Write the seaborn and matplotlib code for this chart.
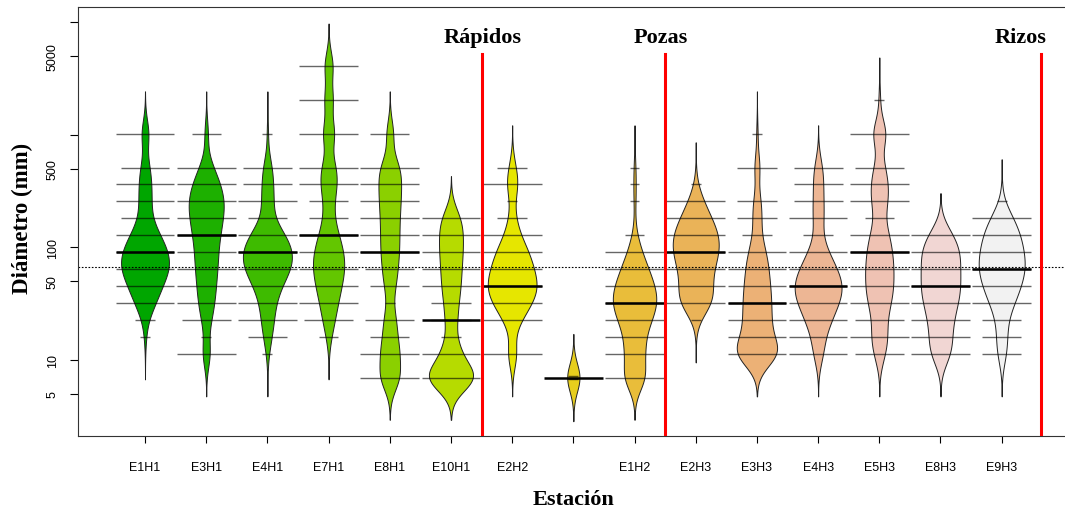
import colorsys
import numpy as np
import pandas as pd
import matplotlib
matplotlib.use("Agg")
import matplotlib.pyplot as plt
import matplotlib.transforms as mtransforms
import seaborn as sns

# Clases de diámetro (mm), de menor a mayor
clases = [7, 11.3, 16, 22.6, 32, 45, 64, 90.5, 128, 181, 256, 362, 512, 1024, 2048, 4096]

# Estaciones en el orden del eje x ("" = posición sin etiqueta)
estaciones = ["E1H1", "E3H1", "E4H1", "E7H1", "E8H1", "E10H1", "E2H2", "",
              "E1H2", "E2H3", "E3H3", "E4H3", "E5H3", "E8H3", "E9H3"]

# Nº de piedras por clase (mismo orden que `clases`)
n_E1H1 = [0, 0, 1, 2, 10, 15, 24, 22, 14, 5, 6, 6, 5, 6, 0, 0]
n_E3H1 = [0, 6, 1, 5, 8, 9, 11, 11, 13, 16, 18, 14, 7, 3, 0, 0]
n_E4H1 = [0, 1, 4, 6, 7, 12, 22, 24, 17, 4, 6, 5, 5, 1, 0, 0]
n_E7H1 = [0, 0, 2, 5, 7, 10, 13, 12, 8, 4, 4, 7, 7, 8, 6, 6]
n_E8H1 = [10, 8, 4, 5, 1, 4, 5, 6, 6, 6, 7, 7, 8, 4, 0, 0]
n_E10H1 = [24, 8, 2, 4, 4, 6, 6, 7, 7, 7, 0, 0, 0, 0, 0, 0]
n_E2H2 = [0, 6, 0, 7, 16, 22, 17, 14, 6, 3, 1, 6, 3, 0, 0, 0]
n_E1H2 = [14, 10, 8, 14, 20, 17, 12, 6, 2, 0, 1, 1, 1, 0, 0, 0]
n_E2H3 = [0, 0, 0, 1, 15, 12, 13, 18, 18, 12, 6, 1, 0, 0, 0, 0]
n_E3H3 = [0, 26, 12, 12, 12, 11, 10, 8, 3, 4, 4, 0, 4, 1, 0, 0]
n_E4H3 = [0, 6, 6, 13, 20, 26, 19, 10, 3, 6, 5, 5, 5, 0, 0, 0]
n_E5H3 = [0, 5, 7, 5, 9, 11, 11, 10, 8, 3, 7, 7, 5, 9, 1, 0]
n_E8H3 = [0, 8, 7, 8, 11, 13, 12, 13, 9, 0, 0, 0, 0, 0, 0, 0]
n_E9H3 = [0, 4, 4, 4, 9, 14, 18, 16, 14, 9, 1, 0, 0, 0, 0, 0]
# la estación sin nombre solo tiene tres piedras
obs_sin_nombre = [6.8, 7.0, 7.2]

conteos = {"E1H1": n_E1H1, "E3H1": n_E3H1, "E4H1": n_E4H1, "E7H1": n_E7H1,
           "E8H1": n_E8H1, "E10H1": n_E10H1, "E2H2": n_E2H2, "E1H2": n_E1H2,
           "E2H3": n_E2H3, "E3H3": n_E3H3, "E4H3": n_E4H3, "E5H3": n_E5H3,
           "E8H3": n_E8H3, "E9H3": n_E9H3}

# Tramos del río (texto, posición del texto, posición de la línea roja)
tramos = ["Rápidos", "Pozas", "Rizos"]
tramos_x = [6.51, 9.43, 15.31]
lineas_x = [6.5, 9.5, 15.65]

H = 0.125        # ancho de banda común en décadas (log10)
MAXW = 0.8       # ancho máximo de las judías
GROWN = 12       # judías con menos obs. se dibujan más estrechas
LL = 0.16        # largo de la línea de una observación
MAXLINE = 0.96   # largo máximo de las líneas


def terrain_colors(n):
    # misma rampa que terrain.colors() de R
    k = n // 2
    h1 = np.linspace(4 / 12, 2 / 12, k)
    s1 = np.linspace(1, 1, k)
    v1 = np.linspace(0.65, 0.9, k)
    h2 = np.linspace(2 / 12, 0, n - k + 1)[1:]
    s2 = np.linspace(1, 0, n - k + 1)[1:]
    v2 = np.linspace(0.9, 0.95, n - k + 1)[1:]
    hs = np.r_[h1, h2]
    ss = np.r_[s1, s2]
    vs = np.r_[v1, v2]
    return [colorsys.hsv_to_rgb(h, s, v) for h, s, v in zip(hs, ss, vs)]


def bw_comun(kde):
    # mismo ancho de banda para todas las judías
    return H / np.sqrt(np.cov(kde.dataset[0], aweights=kde.weights))


filas = []
for pos, est in enumerate(estaciones, start=1):
    if est in conteos:
        vals = np.repeat(clases, conteos[est])
    else:
        vals = np.array(obs_sin_nombre)
    filas.append(pd.DataFrame({"pos": pos, "est": est if est else "-", "diam": vals}))
df = pd.concat(filas, ignore_index=True)

colores = terrain_colors(len(estaciones))
pal = {(e if e else "-"): c for e, c in zip(estaciones, colores)}

plt.rcParams["font.family"] = ["Liberation Sans", "DejaVu Sans"]
fig = plt.figure(figsize=(10.65, 5.10), dpi=100)
ax = fig.add_axes([78 / 1065, 73 / 510, 991 / 1065, 429 / 510])

normales = df[df["est"] != "-"]
sns.violinplot(data=normales, x="pos", y="diam", hue="est", palette=pal,
               native_scale=True, log_scale=(False, True), orient="x",
               inner=None, cut=3, gridsize=400, bw_method=bw_comun,
               density_norm="area", common_norm=True, width=MAXW,
               saturation=1, linewidth=0.7, linecolor="#222222",
               legend=False, ax=ax)

# la judía con pocas observaciones se dibuja más estrecha
chica = df[df["est"] == "-"]
sns.violinplot(data=chica, x="pos", y="diam", color=pal["-"],
               native_scale=True, log_scale=(False, True), orient="x",
               inner=None, cut=3, gridsize=400, bw_method=bw_comun,
               width=MAXW * len(chica) / GROWN, saturation=1,
               linewidth=0.7, linecolor="#222222", ax=ax)

# líneas de cada observación y mediana
for pos in range(1, len(estaciones) + 1):
    sub = df.loc[df["pos"] == pos, "diam"].to_numpy()
    vals, cnt = np.unique(sub, return_counts=True)
    for v, c in zip(vals, cnt):
        L = min(LL * c, MAXLINE)
        ax.hlines(v, pos - L / 2, pos + L / 2, color="black", alpha=0.6,
                  lw=1.0, zorder=3)
    ax.hlines(np.median(sub), pos - MAXLINE / 2, pos + MAXLINE / 2,
              color="black", lw=1.8, zorder=4)

# línea general (media geométrica)
media_geo = 10 ** np.log10(df["diam"]).mean()
ax.axhline(media_geo, color="black", lw=0.8, ls=(0, (1.5, 1.5)), zorder=2)

trans = mtransforms.blended_transform_factory(ax.transData, ax.transAxes)
for xl in lineas_x:
    ax.axvline(xl, ymin=0, ymax=0.89, color="red", lw=2.2, zorder=5)
for txt, xt in zip(tramos, tramos_x):
    ax.text(xt, 0.918, txt, transform=trans, ha="center", va="baseline",
            fontsize=16, fontweight="bold", family="Liberation Serif")

ax.set_xlim(-0.095, 16.1)
ax.set_ylim(2.12, 13610)
ax.set_xticks(range(1, len(estaciones) + 1), estaciones)
yt = [5, 10, 50, 100, 500, 1000, 5000, 10000]
ax.set_yticks(yt, ["5", "10", "50", "100", "500", "", "5000", ""])
ax.yaxis.set_minor_locator(matplotlib.ticker.NullLocator())
ax.tick_params(axis="x", length=5, width=0.8, pad=13, labelsize=9)
ax.tick_params(axis="y", length=5.8, width=0.8, pad=8, labelsize=9)
for lab in ax.get_yticklabels():
    lab.set_rotation(90)
    lab.set_va("center")

ax.set_xlabel("Estación", fontsize=16, fontweight="bold", family="Liberation Serif")
ax.set_ylabel("Diámetro (mm)", fontsize=16.5, fontweight="bold", family="Liberation Serif")
ax.xaxis.set_label_coords(0.5, -0.147)
ax.xaxis.label.set_va("center")
ax.yaxis.set_label_coords(-0.056, 0.51)
ax.yaxis.label.set_va("center")

for s in ax.spines.values():
    s.set_linewidth(0.8)
    s.set_color("#333333")

fig.savefig("out.png", dpi=100)
